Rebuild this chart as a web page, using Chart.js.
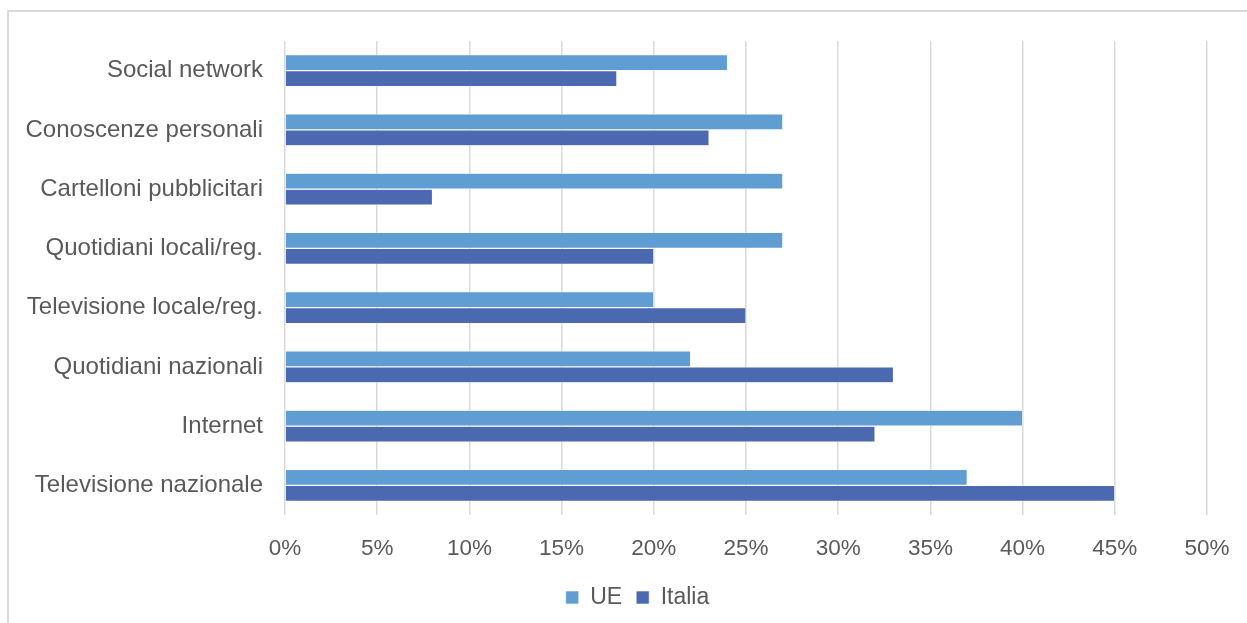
<!DOCTYPE html>
<html>
<head>
<meta charset="utf-8">
<script src="https://cdn.jsdelivr.net/npm/chart.js@4/dist/chart.umd.min.js"></script>
<style>
    html, body { margin: 0; padding: 0; background: #fff; overflow: hidden; }
    #frame {
        position: absolute; left: 7px; top: 10px;
        width: 1300px; height: 700px;
        border: 2px solid #d9d9d9;
        box-sizing: border-box;
    }
    #wrap { position: absolute; left: 0; top: 0; width: 1247px; height: 623px; }
</style>
</head>
<body>
<div id="frame"></div>
<div id="wrap"><canvas id="chart1"></canvas></div>
<script>
const categories = [
    "Social network",
    "Conoscenze personali",
    "Cartelloni pubblicitari",
    "Quotidiani locali/reg.",
    "Televisione locale/reg.",
    "Quotidiani nazionali",
    "Internet",
    "Televisione nazionale"
]
const ueValues = [24, 27, 27, 27, 20, 22, 40, 37]
const italiaValues = [18, 23, 8, 20, 25, 33, 32, 45]

const textColor = "#595959"
Chart.defaults.font.family = "'Liberation Sans', Arial, sans-serif"
Chart.defaults.font.size = 23
Chart.defaults.color = textColor

// the legend in the original sits a bit right of the middle
const legendShift = {
    id: "legendShift",
    afterLayout(chart) {
        chart.legend.left += 34
        chart.legend.right += 34
    }
}

const chartData = {
    "type": "bar",
    "data": {
        "labels": categories,
        "datasets": [
            {
                "label": "UE",
                "data": ueValues,
                "backgroundColor": "#5f9dd3",
                "borderColor": "#ffffff",
                "borderWidth": 0.6
            },
            {
                "label": "Italia",
                "data": italiaValues,
                "backgroundColor": "#4a69b0",
                "borderColor": "#ffffff",
                "borderWidth": 0.6
            }
        ]
    },
    "options": {
        "indexAxis": "y",
        "responsive": true,
        "maintainAspectRatio": false,
        "animation": false,
        "datasets": {
            "bar": { "categoryPercentage": 0.54, "barPercentage": 1.0 }
        },
        "layout": {
            "padding": { "top": 41, "right": 40, "bottom": 4, "left": 0 }
        },
        "scales": {
            "x": {
                "min": 0,
                "max": 50,
                "ticks": {
                    "stepSize": 5,
                    "padding": 20,
                    "color": textColor,
                    "font": { "size": 22.5 },
                    "callback": v => v + "%"
                },
                "grid": { "color": "#d9d9d9", "lineWidth": 1.5, "drawTicks": false },
                "border": { "display": false },
                "afterFit": scale => {
                    scale.height = 57
                    scale.paddingLeft = 0
                    scale.paddingRight = 0
                }
            },
            "y": {
                "ticks": { "padding": 22, "color": textColor, "font": { "size": 24 } },
                "grid": { "display": false, "drawTicks": false },
                "border": { "display": false },
                "afterFit": scale => { scale.width = 285 }
            }
        },
        "plugins": {
            "legend": {
                "position": "bottom",
                "labels": {
                    "boxWidth": 13,
                    "boxHeight": 13,
                    "padding": 14,
                    "color": textColor,
                    "font": { "size": 23 }
                }
            },
            "tooltip": { "enabled": false }
        }
    },
    "plugins": [legendShift]
}

const ctx = document.getElementById("chart1").getContext("2d")
new Chart(ctx, chartData)
</script>
</body>
</html>
